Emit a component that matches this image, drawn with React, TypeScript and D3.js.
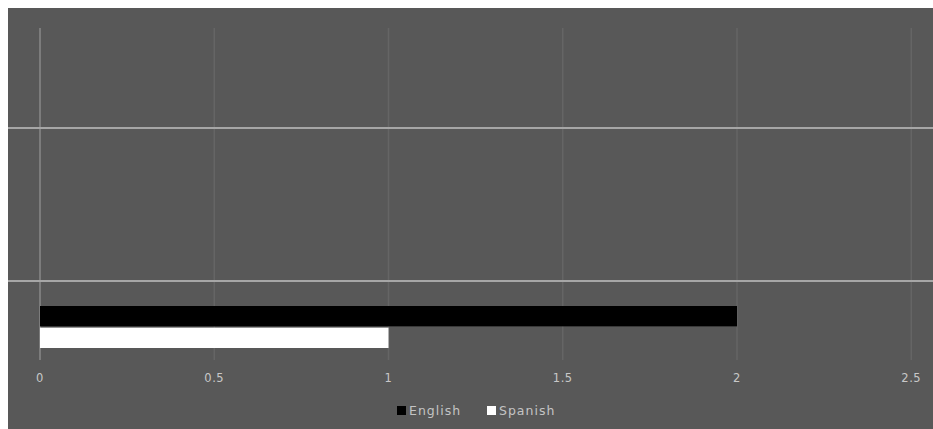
import React from "react";
import * as d3 from "d3";

// chart values
const series = ["English", "Spanish"];
const values = [2, 1];
const colors = ["#000000", "#ffffff"];
const xTicks = [0, 0.5, 1, 1.5, 2, 2.5];
const tickLabels = ["0", "0.5", "1", "1.5", "2", "2.5"];

const W = 925;
const H = 421;

export default function App() {
  const x = d3.scaleLinear().domain([0, 2.5]).range([32, 903.25]);
  const y = d3.scaleBand().domain(series).range([298, 340]).paddingInner(0.06);

  // horizontal divider lines of the plot (as fractions of plot height)
  const plotY = d3.scaleLinear().domain([0, 1]).range([20, 352]);
  const dividers = [0.301, 0.762];

  const legendX = [389, 479];

  return (
    <svg
      width={W}
      height={H}
      style={{ position: "absolute", left: 8, top: 8, display: "block" }}
      fontFamily="'DejaVu Sans', Verdana, sans-serif"
    >
      <rect width={W} height={H} fill="#585858" />

      {xTicks.map((t, i) => (
        <line
          key={"g" + i}
          x1={x(t)}
          x2={x(t)}
          y1={plotY(0)}
          y2={plotY(1)}
          stroke={i === 0 ? "#7c7c7c" : "#656565"}
          strokeWidth={i === 0 ? 2 : 1.5}
        />
      ))}

      {dividers.map((d, i) => (
        <line
          key={"d" + i}
          x1={0}
          x2={W}
          y1={plotY(d)}
          y2={plotY(d)}
          stroke="#a6a6a6"
          strokeWidth={2}
        />
      ))}

      {series.map((s, i) => (
        <rect
          key={s}
          x={x(0)}
          y={y(s)}
          width={x(values[i]) - x(0)}
          height={y.bandwidth()}
          fill={colors[i]}
        />
      ))}

      {xTicks.map((t, i) => (
        <text
          key={"t" + i}
          x={x(t)}
          y={374}
          textAnchor="middle"
          fontSize={11.5}
          letterSpacing={0.5}
          fill="#c8c8c8"
        >
          {tickLabels[i]}
        </text>
      ))}

      {series.map((s, i) => (
        <g key={"l" + s} transform={`translate(${legendX[i]},398)`}>
          <rect width={9} height={9} fill={colors[i]} />
          <text x={12} y={9} fontSize={12.5} letterSpacing={1} fill="#c4c4c4">
            {s}
          </text>
        </g>
      ))}
    </svg>
  );
}
